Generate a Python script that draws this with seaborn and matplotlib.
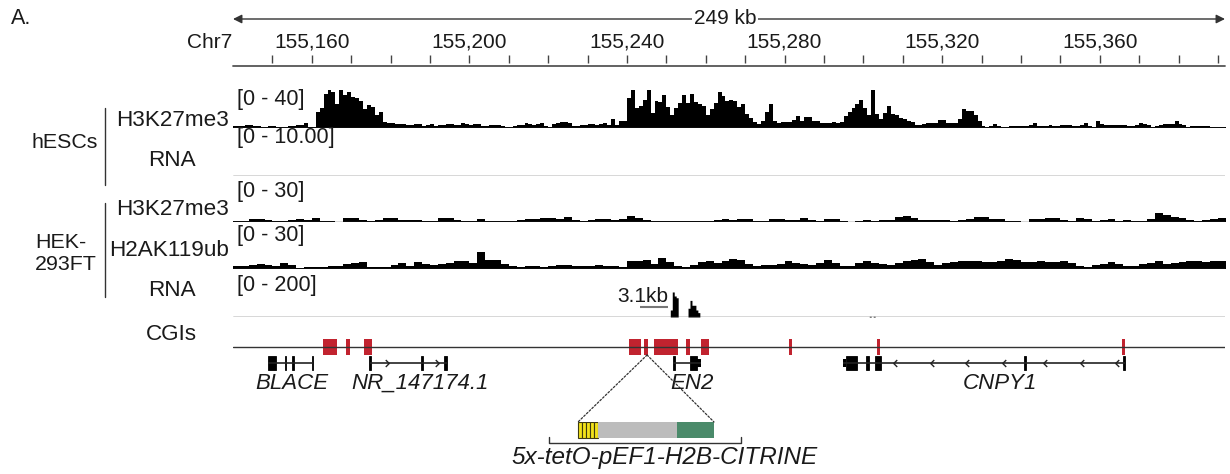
import numpy as np
import pandas as pd
import seaborn as sns
import matplotlib.pyplot as plt
from matplotlib.patches import ConnectionPatch
from matplotlib.path import Path

# ---- data (kb on chr7) ------------------------------------------------
region = (155140.0, 155391.8)
span_label = "249 kb"
span_label_x = 155264.9
ruler_ticks = np.arange(155150, 155391, 10)
ruler_labels = [155160, 155200, 155240, 155280, 155320, 155360]

# hESC H3K27me3, 1 kb bins from region start, scale [0 - 40]
hesc_k27 = [2, 2, 2.5, 3, 3, 2.5, 2.5, 1.5, 1, 2, 2, 1, 1, 1.5, 2, 2, 3, 3.5, 5, 1.5, 1.5,
            16, 20, 34, 38, 36, 24, 38, 33, 36, 31, 30, 27, 19, 23, 21, 13, 16, 6,
            5, 5, 4.5, 4, 4, 3.5, 3.5, 4.5, 4, 2.5, 3, 4, 2.5, 3, 3.5, 4, 4, 3.5, 3.5, 5, 4, 3.5, 4, 4.5,
            2, 2, 3.5, 3.5, 3, 2, 1.5, 0.7, 2.5, 3, 3, 5, 4, 3.5, 4.5, 5, 2, 1, 4, 5, 6, 6, 5, 2, 2,
            3.5, 3.5, 4, 4, 3, 4.5, 5, 3.5, 9, 3.5, 7, 7,
            30, 38, 20, 22, 28, 38, 15, 27, 26, 33, 21, 13, 20, 25, 33, 25, 34, 26, 24, 22, 13, 19,
            25, 36, 32, 27,
            28, 27, 21, 24, 14, 10, 6, 4.5, 7, 16, 24, 7, 5, 6, 6, 6, 8, 12, 7, 11, 11, 7, 7, 5.5,
            5.5, 5, 6, 5, 6, 12, 16, 20, 24, 28, 20, 13, 38, 14, 9, 15, 22, 14, 13, 10, 9, 7, 6, 3,
            3, 4, 5, 5, 5, 8, 8, 5, 5, 5, 9, 19, 17, 17, 13,
            7, 2, 1.5, 2, 4.5, 2.5, 1.5, 1.5, 2, 2.5, 2.5, 2.5, 2.5, 3, 5, 2, 2, 2.5, 3, 2.5, 2.5,
            3, 3.5, 3, 2.5, 2.5, 3, 5, 2, 1.5, 7, 4, 3.5, 3.5, 3, 3.5, 3, 3.5, 2.5, 2.5, 3, 5, 4,
            3, 0.7, 2.5, 3.5, 4, 4, 4.5, 7, 4, 3, 1.5, 2.5, 2.5, 2.5, 2, 2, 1.5, 0.7, 0.7, 1.5]

# HEK-293FT H3K27me3 and H2AK119ub, 2 kb bins, scale [0 - 30]
hek_k27 = [1.5, 1, 3, 3, 2.5, 1.5, 0.7, 2.5, 3, 2, 4, 1, 0.8, 0.5, 4, 4, 2, 0.7, 2, 4, 4, 2,
           2, 2, 1.5, 1, 4, 4, 2, 0.7, 1, 3, 1.5, 1.5, 1.5, 0.7, 2, 3, 3, 4, 4, 3, 5, 2, 0.7,
           2, 3, 3, 2.5, 3, 6, 4, 2, 1, 0.7, 1.5, 0.7, 1, 1.5, 0.7, 1, 2, 3,
           2, 3.5, 3, 1.5, 1, 3, 3, 2, 2, 4, 2, 0.7, 3, 3, 0.7, 0.5, 1.5, 2, 1.5, 2, 2.5, 5,
           6, 4, 2, 2.5, 2, 2, 1.5, 2, 3, 5, 5, 3, 3, 1.5, 1.5, 0.5, 3, 3, 4, 4, 2, 1, 4, 3,
           1.5, 2, 3.5, 1.5, 2, 1.5, 1.5, 3, 9, 7, 5, 4, 2, 1.5, 2, 3, 4]
hek_ub = [3, 2.5, 4, 5, 4, 3, 6, 4, 1, 1.7, 2.3, 2.3, 2.5, 3.3, 5, 5.7, 6.7, 2.3, 1.7, 2.3,
          4.3, 5.7, 3.3, 6.7, 5, 4, 5, 5.7, 7.7, 7.5, 5.7, 16.7, 9, 9, 5, 2.5, 2.3, 3, 3.3, 2.3,
          2.5, 4.3, 4, 3.3, 2.8, 3, 4.3, 3.3, 3.3, 2.3, 8.3, 7.7, 9, 5, 11, 6.7, 3.3, 2.3, 4,
          6.7, 7.7, 5.7, 8.3,
          10, 9, 5, 2.5, 3.5, 4.3, 5, 8, 6, 4.5, 4.3, 5.7, 9, 5.7, 3.3, 3.3, 6, 8, 6, 4.5, 4.3,
          6, 7.7, 9, 10, 6.7, 4.3, 5.7, 6.5, 7.7, 8.3, 8, 6.7, 7, 7.7, 10, 9, 6.7, 6.7, 7.7,
          6.7, 6.7, 7.7, 5.7, 3.3, 2, 3.5, 5, 6.7, 4.5, 3.3, 3.3, 5, 6, 7.7, 5, 5.7, 6.7, 7.7,
          7.7, 6.7, 7.7, 7.7]

# HEK-293FT RNA, 0.5 kb bins (non-zero only), scale [0 - 200]
hek_rna_pos = [155251.0, 155251.5, 155252.0, 155252.5,
               155255.5, 155256.0, 155256.5, 155257.0, 155257.5, 155258.0,
               155301.5, 155302.5]
hek_rna_val = [40, 143, 120, 110,
               50, 95, 67, 67, 40, 25,
               4, 4]

cgi_start = [155162.8, 155168.7, 155173.2, 155240.5, 155244.3, 155246.9, 155255.0,
             155258.8, 155281.1, 155303.5, 155365.6]
cgi_end = [155166.4, 155169.7, 155175.3, 155243.6, 155245.3, 155252.9, 155256.0,
           155260.8, 155281.9, 155304.2, 155366.4]
insert_site = 155245.1

gene_names = ["BLACE", "NR_147174.1", "EN2", "CNPY1"]
gene_spans = [(155148.9, 155160.3), (155174.7, 155194.4), (155251.7, 155258.8),
              (155294.8, 155366.4)]
gene_exons = [
    [(155148.9, 155150.9), (155153.1, 155153.5), (155155.0, 155155.4), (155160.0, 155160.4)],
    [(155174.6, 155175.0), (155187.8, 155188.2), (155193.6, 155194.4)],
    [(155251.7, 155252.2), (155256.0, 155257.8)],
    [(155295.6, 155298.4), (155300.7, 155301.4), (155302.9, 155304.5),
     (155340.8, 155341.3), (155365.9, 155366.4)],
]
gene_utrs = [[], [], [(155257.8, 155258.8)], [(155294.8, 155295.6)]]
gene_arrows = [[], [155179.1, 155191.8], [],
               [155308.0, 155317.4, 155326.3, 155335.7, 155346.1, 155355.5, 155364.4]]
gene_strand = ["", "+", "+", "-"]
gene_label_x = [155155.0, 155187.5, 155256.5, 155334.7]

construct_parts = ["tetO", "tetO", "tetO", "tetO", "tetO", "pEF1", "H2B-CITRINE"]
construct_len = [0.2, 0.2, 0.2, 0.2, 0.2, 3.95, 1.85]
construct_col = ["#f2e21a"] * 5 + ["#bcbcbc", "#4a8a6a"]
construct_label = "5x-tetO-pEF1-H2B-CITRINE"

# ---- figure -----------------------------------------------------------
sns.set_style("white")
plt.rcParams["font.family"] = ["Liberation Sans", "DejaVu Sans"]
plt.rcParams["text.color"] = "#1a1a1a"

W, H = 1230, 474
X0, X1 = 233, 1225
FS = 15
FS_NAME = 16.2
fig = plt.figure(figsize=(W / 100, H / 100), dpi=100)


def px_ax(top, bottom, left=X0, right=X1):
    ax = fig.add_axes([left / W, 1 - bottom / H, (right - left) / W, (bottom - top) / H])
    ax.set_xlim(*region)
    ax.set_axis_off()
    return ax


def ftext(x, y, s, **kw):
    kw.setdefault("fontsize", FS)
    kw.setdefault("va", "center")
    fig.text(x / W, 1 - y / H, s, **kw)


def coverage(ax, x, w, edges, ymax):
    df = pd.DataFrame({"pos": np.asarray(x, float), "val": np.asarray(w, float)})
    sns.histplot(data=df, x="pos", weights="val", bins=list(edges), element="step",
                 fill=True, color="black", alpha=1, linewidth=0, ax=ax)
    ax.axhline(0, color="#3a3a3a", lw=1)
    ax.set_xlim(*region)
    ax.set_ylim(0, ymax)
    ax.set_axis_off()


def binned(values, step):
    edges = region[0] + step * np.arange(len(values) + 1)
    return edges[:-1] + step / 2, values, edges


# title arrow
ax = px_ax(12, 26)
ax.set_ylim(-1, 1)
ax.annotate("", xy=(region[1], 0), xytext=(region[0], 0),
            arrowprops=dict(arrowstyle="<|-|>", color="#333", lw=1,
                            mutation_scale=13, shrinkA=0, shrinkB=0))
ax.text(span_label_x, 0, span_label, ha="center", va="center", fontsize=FS,
        bbox=dict(fc="white", ec="none", pad=1))
ftext(11, 19, "A.", ha="left", fontsize=15.5)

# ruler
ax = px_ax(54, 66)
ax.set_ylim(0, 1)
ax.vlines(ruler_ticks, 0.25, 0.92, color="#444", lw=1)
ax.axhline(0, color="#555", lw=1.3, clip_on=False)
for v in ruler_labels:
    ax.text(v, 2.0, f"{v:,}", ha="center", va="center", fontsize=FS, clip_on=False)
ftext(232, 42, "Chr7", ha="right")

# signal tracks
ax = px_ax(88, 128)
x, w, e = binned(hesc_k27, 1.0)
coverage(ax, x, w, e, 40)
ftext(237, 100, "[0 - 40]", fontsize=15.5)

ax = px_ax(138, 176)
ax.set_ylim(0, 10)
ax.axhline(0, color="#3a3a3a", lw=1)
ftext(237, 138, "[0 - 10.00]", fontsize=15.5)

ax = px_ax(192, 222)
x, w, e = binned(hek_k27, 2.0)
coverage(ax, x, w, e, 30)
ftext(237, 192, "[0 - 30]", fontsize=15.5)

ax = px_ax(239, 269)
x, w, e = binned(hek_ub, 2.0)
coverage(ax, x, w, e, 30)
ftext(237, 236, "[0 - 30]", fontsize=15.5)

ax = px_ax(282, 317)
rna_edges = np.arange(region[0], region[1] + 0.5, 0.5)
coverage(ax, np.array(hek_rna_pos) + 0.25, hek_rna_val, rna_edges, 200)
ftext(237, 286, "[0 - 200]", fontsize=15.5)
ax.text(155244.1, 120, "3.1kb", ha="center", va="center", fontsize=FS)
ax.hlines(55, 155243.3, 155250.4, color="#777", lw=1.5)

# left labels
ftext(229, 121, "H3K27me3", ha="right", fontsize=FS_NAME)
ftext(172, 160, "RNA", ha="center", fontsize=FS_NAME)
ftext(65, 143, "hESCs", ha="center", fontsize=FS_NAME - 0.8)
ftext(229, 210, "H3K27me3", ha="right", fontsize=FS_NAME)
ftext(229, 250, "H2AK119ub", ha="right", fontsize=FS_NAME)
ftext(172, 291, "RNA", ha="center", fontsize=FS_NAME)
ftext(35, 254, "HEK-\n293FT", ha="left", linespacing=1.2, fontsize=FS_NAME - 0.8)
ftext(171, 334, "CGIs", ha="center", fontsize=FS_NAME)
for y0, y1 in [(108, 185), (203, 297)]:
    fig.add_artist(plt.Line2D([105 / W] * 2, [1 - y0 / H, 1 - y1 / H], color="#333", lw=1))

# CpG islands
ax_cgi = px_ax(337, 357)
ax_cgi.set_ylim(-1, 1)
ax_cgi.axhline(0, color="#333", lw=1)
ax_cgi.bar(cgi_start, 1.6, width=np.subtract(cgi_end, cgi_start), bottom=-0.8,
           align="edge", color="#c1232f", lw=0)

# genes
ax = px_ax(351, 399)
ax.set_ylim(-3, 1)
chev = Path([(-0.5, 1), (0.5, 0), (-0.5, -1)], [Path.MOVETO, Path.LINETO, Path.LINETO])
chev_l = Path([(0.5, 1), (-0.5, 0), (0.5, -1)], [Path.MOVETO, Path.LINETO, Path.LINETO])
for i, name in enumerate(gene_names):
    ax.hlines(0, *gene_spans[i], color="#222", lw=1.2)
    ex = np.array(gene_exons[i])
    ax.bar(ex[:, 0], 1.2, width=ex[:, 1] - ex[:, 0], bottom=-0.6, align="edge",
           color="black", edgecolor="black", lw=0.6)
    if gene_utrs[i]:
        ut = np.array(gene_utrs[i])
        ax.bar(ut[:, 0], 0.7, width=ut[:, 1] - ut[:, 0], bottom=-0.35, align="edge",
               color="black", lw=0)
    if gene_arrows[i]:
        ax.plot(gene_arrows[i], np.zeros(len(gene_arrows[i])), ls="none",
                marker=chev if gene_strand[i] == "+" else chev_l,
                ms=5, mfc="none", mec="#222", mew=1)
    ax.text(gene_label_x[i], -1.67, name, ha="center", va="center", fontsize=16,
            style="italic", clip_on=False)

# construct inset
ax_ins = fig.add_axes([549 / W, 1 - 446 / H, 192 / W, 24 / H])
ax_ins.set_xlim(-1.45, 8.15)
ax_ins.set_ylim(-1, 1)
ax_ins.set_axis_off()
left = np.concatenate([[0], np.cumsum(construct_len)[:-1]])
for j, part in enumerate(construct_parts):
    ax_ins.barh(1 / 3, construct_len[j], left=left[j], height=4 / 3, color=construct_col[j],
                edgecolor="#3d3a10" if part == "tetO" else "none", lw=0.8)
ax_ins.plot([-1.45, -1.45, 8.15, 8.15], [-0.25, -0.75, -0.75, -0.25], color="#333",
            lw=1, clip_on=False)
ax_ins.text(4.35, -1.92, construct_label, ha="center", va="center", fontsize=17.5,
            style="italic", clip_on=False)

for xb in (0, sum(construct_len)):
    con = ConnectionPatch(xyA=(insert_site, -0.8), coordsA="data", axesA=ax_cgi,
                          xyB=(xb, 1), coordsB="data", axesB=ax_ins,
                          ls=(0, (1.5, 1.5)), color="#333", lw=0.9)
    fig.add_artist(con)

fig.savefig("out.png", dpi=100)
